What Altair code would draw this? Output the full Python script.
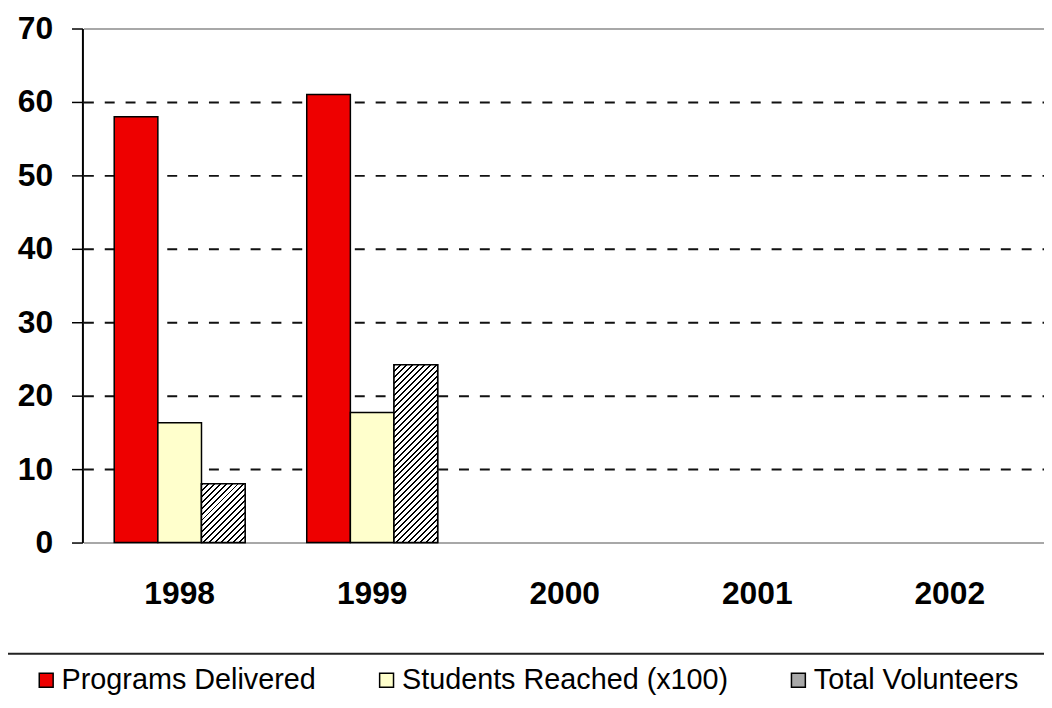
import altair as alt
import pandas as pd

# ---- data ----
years = ["1998", "1999", "2000", "2001", "2002"]
data_years = ["1998", "1999"]
series = ["Programs Delivered", "Students Reached (x100)", "Total Volunteers"]
programs = [58, 61]
students = [16.3, 17.7]
volunteers = [8, 24.2]
colors = ["#ee0000", "#ffffcc", "#a8a8a8"]

rows = []
for i, yr in enumerate(data_years):
    for s, vals in zip(series, [programs, students, volunteers]):
        rows.append({"year": yr, "series": s, "value": vals[i]})
df = pd.DataFrame(rows)

# ---- layout ----
WIDTH, HEIGHT = 969, 518
YMAX = 70
X_RANGE = [1, 971]
P_INNER = 0.32
step = (X_RANGE[1] - X_RANGE[0]) / len(years)
bar_w = step * (1 - P_INNER) / len(series)
px_per_unit = HEIGHT / YMAX


def hatch_gradient(w, h, period=6.0, thick=2.0):
    S = w + h
    k = S / (w * w + h * h)
    stops = []
    i = 0
    while i * period / S < 1:
        a = i * period / S
        b = min((i * period + thick) / S, 1)
        c = min((i + 1) * period / S, 1)
        stops += [
            {"offset": round(a, 5), "color": "#000000"},
            {"offset": round(b, 5), "color": "#000000"},
            {"offset": round(b, 5), "color": "#ffffff"},
            {"offset": round(c, 5), "color": "#ffffff"},
        ]
        i += 1
    return {"gradient": "linear", "x1": 0, "y1": 0, "x2": k * w, "y2": k * h, "stops": stops}


x_enc = alt.X(
    "year:N",
    scale=alt.Scale(domain=years, range=X_RANGE, paddingInner=P_INNER, paddingOuter=P_INNER / 2),
    axis=alt.Axis(
        title=None, labelAngle=0, ticks=False, tickSize=0,
        labelFont="Liberation Sans", labelFontWeight="bold", labelFontSize=32,
        labelColor="black", labelPadding=51, labelBaseline="middle",
        domainColor="#a8a8a8", domainWidth=2,
    ),
)
xo_enc = alt.XOffset("series:N", scale=alt.Scale(domain=series, paddingInner=0, paddingOuter=0))
y_enc = alt.Y(
    "value:Q",
    scale=alt.Scale(domain=[0, YMAX], nice=False),
    axis=alt.Axis(
        title=None, values=list(range(0, YMAX + 1, 10)),
        labelFont="Liberation Sans", labelFontWeight="bold", labelFontSize=32,
        labelColor="black", labelPadding=19,
        tickSize=11, tickColor="black", tickWidth=1.5,
        domainColor="black", domainWidth=2,
        grid=True, gridWidth=2,
        gridColor={"condition": {"test": "datum.value === 70", "value": "#a8a8a8"}, "value": "#111111"},
        gridDash={"condition": {"test": "datum.value === 70", "value": []}, "value": [10, 11]},
        gridOpacity={"condition": {"test": "datum.value === 0", "value": 0}, "value": 1},
    ),
)

base = alt.Chart(df)

bars = base.mark_bar(stroke="black", strokeWidth=1.5).encode(
    x=x_enc,
    xOffset=xo_enc,
    y=y_enc,
    fill=alt.Fill(
        "series:N",
        scale=alt.Scale(domain=series, range=colors),
        legend=alt.Legend(
            title="\u00a0", titleOrient="right", titlePadding=60,
            titleFontSize=8,
            orient="none", direction="horizontal",
            legendX=-76, legendY=630, padding=12,
            strokeColor="#222222", fillColor="white",
            labelFont="Liberation Sans", labelFontSize=29, labelColor="black",
            labelLimit=900, labelOffset=1, symbolOffset=13,
            symbolType="square", symbolSize=196,
            symbolStrokeColor="black", symbolStrokeWidth=1.5,
            columnPadding=43,
        ),
    ),
)

layers = [bars]
for yr, v in zip(data_years, volunteers):
    grad = hatch_gradient(bar_w, v * px_per_unit)
    layers.append(
        base.transform_filter(
            (alt.datum.series == "Total Volunteers") & (alt.datum.year == yr)
        ).mark_bar(fill=grad, stroke="black", strokeWidth=1.5).encode(
            x=x_enc, xOffset=xo_enc, y=y_enc
        )
    )

chart = (
    alt.layer(*layers)
    .properties(
        width=WIDTH,
        height=HEIGHT,
        autosize=alt.AutoSizeParams(type="none"),
        padding={"left": 75, "top": 18, "right": 0, "bottom": 156},
        background="white",
    )
    .configure_view(stroke=None)
    .configure_legend(strokeWidth=2)
)

chart.save("out.html", embed_options={"renderer": "svg", "actions": False})
